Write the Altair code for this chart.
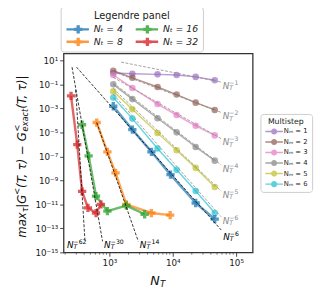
import altair as alt
import pandas as pd

# ---------------- data ----------------
legendre_labels = ["Nₜ = 4", "Nₜ = 8", "Nₜ = 16", "Nₜ = 32"]
nt4_x = [1152, 2304, 4608, 9216, 23040, 46080]
nt4_err = [1.5e-3, 1.7e-5, 2.4e-7, 3.0e-9, 1.3e-11, 5.8e-13]
nt8_x = [630, 930, 1250, 1850, 4600, 9100]
nt8_err = [6.6e-5, 2.4e-7, 4.2e-9, 1.0e-11, 1.9e-12, 1.26e-12]
nt16_x = [370, 470, 615, 930, 1850, 3600]
nt16_err = [4.3e-5, 1.1e-7, 4.9e-11, 2.7e-12, 7.9e-12, 1.5e-12]
nt32_x = [248, 311, 371, 459, 615, 735]
nt32_err = [1.1e-2, 9.5e-7, 1.2e-10, 5.1e-12, 1.9e-12, 1.0e-11]

multistep_labels = ["Nₘ = 1", "Nₘ = 2", "Nₘ = 3", "Nₘ = 4", "Nₘ = 5", "Nₘ = 6"]
ms_x = [1152, 2304, 5760, 11520, 23040, 46080]
nm1_err = [0.89, 0.76, 0.68, 0.60, 0.42, 0.22]
nm2_err = [1.35, 0.35, 0.060, 0.014, 3.0e-3, 7.4e-4]
nm3_err = [0.60, 0.050, 2.3e-3, 2.8e-4, 3.5e-5, 5.6e-6]
nm4_err = [0.10, 5.9e-3, 1.5e-4, 1.0e-5, 6.0e-7, 4.4e-8]
nm5_err = [0.026, 8.5e-4, 8.9e-6, 3.2e-7, 1.1e-8, 2.8e-10]
nm6_err = [8.1e-3, 1.4e-4, 4.5e-7, 7.8e-9, 1.3e-10, 1.9e-12]

# reference power-law guide lines (start / end points)
ref_black_exp = ["−62", "−30", "−14", "−6"]
ref_black_x0 = [294, 257, 631, 303]
ref_black_y0 = [3.4e-2, 2.7, 6.6e-5, 2.7]
ref_black_x1 = [412, 780, 2860, 58200]
ref_black_y1 = [8.3e-15, 8.3e-15, 8.3e-15, 7.4e-14]

ref_gray_exp = ["−1", "−2", "−3", "−4", "−5", "−6"]
ref_gray_x0 = [1530, 1152, 1152, 1152, 1152, 1152]
ref_gray_y0 = [7.2, 1.17, 0.38, 0.129, 0.044, 0.015]
ref_gray_x1 = [58200, 58200, 58200, 58200, 58200, 58200]
ref_gray_y1 = [0.155, 4.6e-4, 3.0e-6, 1.95e-8, 1.3e-10, 9.1e-13]

x_ticks = [1e3, 1e4, 1e5]
y_ticks = [10.0 ** k for k in range(1, -16, -2)]
x_minor = [m * 10 ** d for d in (2, 3, 4) for m in range(2, 10)]

legendre_colors = ["#1f77b4", "#ff7f0e", "#2ca02c", "#d62728"]
multistep_colors = ["#9467bd", "#8c564b", "#e377c2", "#7f7f7f", "#bcbd22", "#17becf"]

# ---------------- tables ----------------
nt_df = pd.concat([
    pd.DataFrame({"nt": lab, "x": xs, "err": es})
    for lab, xs, es in zip(legendre_labels,
                           [nt4_x, nt8_x, nt16_x, nt32_x],
                           [nt4_err, nt8_err, nt16_err, nt32_err])
])
ms_df = pd.concat([
    pd.DataFrame({"nm": lab, "x": ms_x, "err": es})
    for lab, es in zip(multistep_labels,
                       [nm1_err, nm2_err, nm3_err, nm4_err, nm5_err, nm6_err])
])


def seg_table(exps, x0, y0, x1, y1):
    rows = []
    for e, a, b, c, d in zip(exps, x0, y0, x1, y1):
        rows.append({"exp": e, "x": a, "err": b})
        rows.append({"exp": e, "x": c, "err": d})
    return pd.DataFrame(rows)


def end_table(exps, x1, y1):
    return pd.DataFrame({"exp": exps, "x": x1, "err": y1})


black_seg = seg_table(ref_black_exp, ref_black_x0, ref_black_y0, ref_black_x1, ref_black_y1)
gray_seg = seg_table(ref_gray_exp, ref_gray_x0, ref_gray_y0, ref_gray_x1, ref_gray_y1)
black_end = end_table(ref_black_exp, ref_black_x1, ref_black_y1)
gray_end = end_table(ref_gray_exp, ref_gray_x1, ref_gray_y1)

# ---------------- scales / axes ----------------
SUP = {"-": "⁻", "0": "⁰", "1": "¹", "2": "²", "3": "³", "4": "⁴",
       "5": "⁵", "6": "⁶", "7": "⁷", "8": "⁸", "9": "⁹"}


def sup(k):
    return "".join(SUP[c] for c in str(k))


def label_expr(exps):
    parts = [f"abs(log(datum.value)/LN10 - ({k})) < 0.01 ? '10{sup(k)}'" for k in exps]
    return " : ".join(parts) + " : ''"


W, H = 194, 204
xscale = alt.Scale(type="log", domain=[189, 182800], nice=False)
yscale = alt.Scale(type="log", domain=[1e-15, 37.2], nice=False)
xaxis = alt.Axis(values=x_ticks, labelExpr=label_expr([3, 4, 5]), title=None)
yaxis = alt.Axis(values=y_ticks, labelExpr=label_expr(list(range(1, -16, -2))), title=None)


def X(f="x"):
    return alt.X(f"{f}:Q", scale=xscale, axis=xaxis)


def Y(f="err"):
    return alt.Y(f"{f}:Q", scale=yscale, axis=yaxis)


# ---------------- legends ----------------
def rect(x0, x1, h):
    return f"M{x0},{-h}L{x1},{-h}L{x1},{h}L{x0},{h}Z"


def cross(cx, a, h):
    pts = [(cx - h, -a), (cx + h, -a), (cx + h, -h), (cx + a, -h), (cx + a, h), (cx + h, h),
           (cx + h, a), (cx - h, a), (cx - h, h), (cx - a, h), (cx - a, -h), (cx - h, -h)]
    return "M" + "L".join(f"{round(px, 3)},{round(py, 3)}" for px, py in pts) + "Z"


def circ(cx, r):
    return (f"M{cx + r},0A{r},{r} 0 1 1 {cx - r},0A{r},{r} 0 1 1 {cx + r},0Z")


leg1_path = rect(-0.8, 3.8, 0.25) + cross(1.6, 0.85, 0.34)
leg2_path = rect(-0.75, 3.75, 0.19) + circ(1.5, 0.78)

legend1 = alt.Legend(
    title="Legendre panel", orient="none", legendX=-3, legendY=-48, columns=2,
    titleAnchor="middle", titleAlign="center", titleFontSize=10, titleFontWeight="normal",
    titleColor="#222", titlePadding=3,
    labelFontSize=9.5, labelFontStyle="italic", labelColor="#222", labelOffset=19,
    symbolType=leg1_path, symbolSize=100, symbolStrokeWidth=0, symbolOpacity=0.8,
    columnPadding=12, rowPadding=3, padding=5, cornerRadius=3,
    strokeColor="#cccccc", fillColor="#ffffff",
)
legend2 = alt.Legend(
    title="Multistep", orient="none", legendX=202, legendY=62,
    titleAnchor="middle", titleAlign="center", titleFontSize=8, titleFontWeight="normal",
    titleColor="#222", titlePadding=2,
    labelFontSize=7, labelColor="#222", labelOffset=12,
    symbolType=leg2_path, symbolSize=64, symbolStrokeWidth=0, symbolOpacity=0.7,
    rowPadding=2.8, padding=4, cornerRadius=3,
    strokeColor="#cccccc", fillColor="#ffffff",
)

nt_order = legendre_labels
nt_range = legendre_colors

# ---------------- series layers ----------------
# lines are coloured through the stroke channel, points (with the legends) through color
ms_line = alt.Chart(ms_df).mark_line(strokeWidth=1.5, opacity=0.65).encode(
    x=X(), y=Y(),
    stroke=alt.Stroke("nm:N", scale=alt.Scale(domain=multistep_labels, range=multistep_colors),
                      legend=None),
    order="x:Q")
ms_pt = alt.Chart(ms_df).mark_point(shape="circle", filled=True, size=45, opacity=0.65).encode(
    x=X(), y=Y(),
    color=alt.Color("nm:N", scale=alt.Scale(domain=multistep_labels, range=multistep_colors),
                    legend=legend2))

nt_line = alt.Chart(nt_df).mark_line(strokeWidth=2.5, opacity=0.7).encode(
    x=X(), y=Y(),
    stroke=alt.Stroke("nt:N", scale=alt.Scale(domain=nt_order, range=nt_range), legend=None),
    order="x:Q")
nt_pt = alt.Chart(nt_df).mark_point(shape="cross", filled=True, size=72, opacity=0.75).encode(
    x=X(), y=Y(),
    color=alt.Color("nt:N", scale=alt.Scale(domain=nt_order, range=nt_range), legend=legend1))

gray_lines = alt.Chart(gray_seg).mark_line(
    color="#8a8a8a", strokeWidth=0.8, strokeDash=[3, 1.6]).encode(
    x=X(), y=Y(), detail="exp:N")
black_lines = alt.Chart(black_seg).mark_line(
    color="#000000", strokeWidth=0.8, strokeDash=[3, 1.6]).encode(
    x=X(), y=Y(), detail="exp:N")


def exp_labels(df, color, dx, dy):
    base = alt.Chart(df).encode(x=X(), y=Y())
    n = base.mark_text(text="N", fontStyle="italic", fontSize=9, align="left",
                       baseline="middle", dx=dx, dy=dy, color=color)
    t = base.mark_text(text="T", fontStyle="italic", fontSize=6.3, align="left",
                       baseline="middle", dx=dx + 6.8, dy=dy + 2.6, color=color)
    e = base.mark_text(fontSize=6.3, align="left", baseline="middle",
                       dx=dx + 6.8, dy=dy - 3.2, color=color).encode(text="exp:N")
    return [n, t, e]


lab_layers = []
lab_layers += exp_labels(gray_end, "#8a8a8a", 1.5, 4)
lab_layers += exp_labels(black_end[black_end.exp == "−6"], "#000000", 2, 7)
lab_layers += exp_labels(black_end[black_end.exp.isin(["−30", "−14"])], "#000000", 1.6, 3.5)
lab_layers += exp_labels(black_end[black_end.exp == "−62"], "#000000", -18.5, 3.5)

minor = alt.Chart(pd.DataFrame({"x": x_minor})).mark_rule(
    color="#333333", strokeWidth=0.7).encode(x=X(), y=alt.value(H), y2=alt.value(H + 2.3))

# ---------------- axis titles (composed, with sub/superscripts) ----------------
one = pd.DataFrame({"a": [0]})


def ptext(txt, x, y, size, angle=0, dx=0, dy=0, style="italic"):
    return alt.Chart(one).mark_text(
        text=txt, fontSize=size, fontStyle=style, angle=angle, align="left",
        baseline="middle", dx=dx, dy=dy, color="#111111").encode(
        x=alt.value(x), y=alt.value(y))


TX = -43
ytitle = [
    ptext("max", TX, 189, 12, 270),
    ptext("τ", TX, 162.9, 8.4, 270, dy=3.6),
    ptext("|G", TX, 158.2, 12, 270),
    ptext("<", TX, 144.9, 8.4, 270, dy=-4.6),
    ptext("(T, τ) − G", TX, 137.9, 12, 270),
    ptext("<", TX, 79.9, 8.4, 270, dy=-4.6),
    ptext("exact", TX, 79.9, 8.4, 270, dy=3.6),
    ptext("(T, τ)|", TX, 56.7, 12, 270),
]
xtitle = [
    ptext("N", 89, 233, 13),
    ptext("T", 99, 236.5, 9),
]

chart = alt.layer(
    ms_line, ms_pt, nt_line, nt_pt, gray_lines, black_lines, minor,
    *lab_layers, *ytitle, *xtitle
).resolve_scale(color="independent", stroke="independent").properties(
    width=W, height=H,
    padding={"left": 57, "top": 43, "right": 66, "bottom": 38},
    autosize=alt.AutoSizeParams(type="none"),
).configure_view(stroke="#333333", strokeWidth=1.3).configure_axis(
    domain=False, grid=False, tickColor="#333333", tickWidth=0.9, tickSize=4,
    labelFont="DejaVu Sans", labelFontSize=9, labelColor="#222222", labelPadding=2,
).configure_text(font="DejaVu Sans").configure_legend(
    titleFont="DejaVu Sans", labelFont="DejaVu Sans")

chart.save("out.html", embed_options={"renderer": "svg", "actions": False})
